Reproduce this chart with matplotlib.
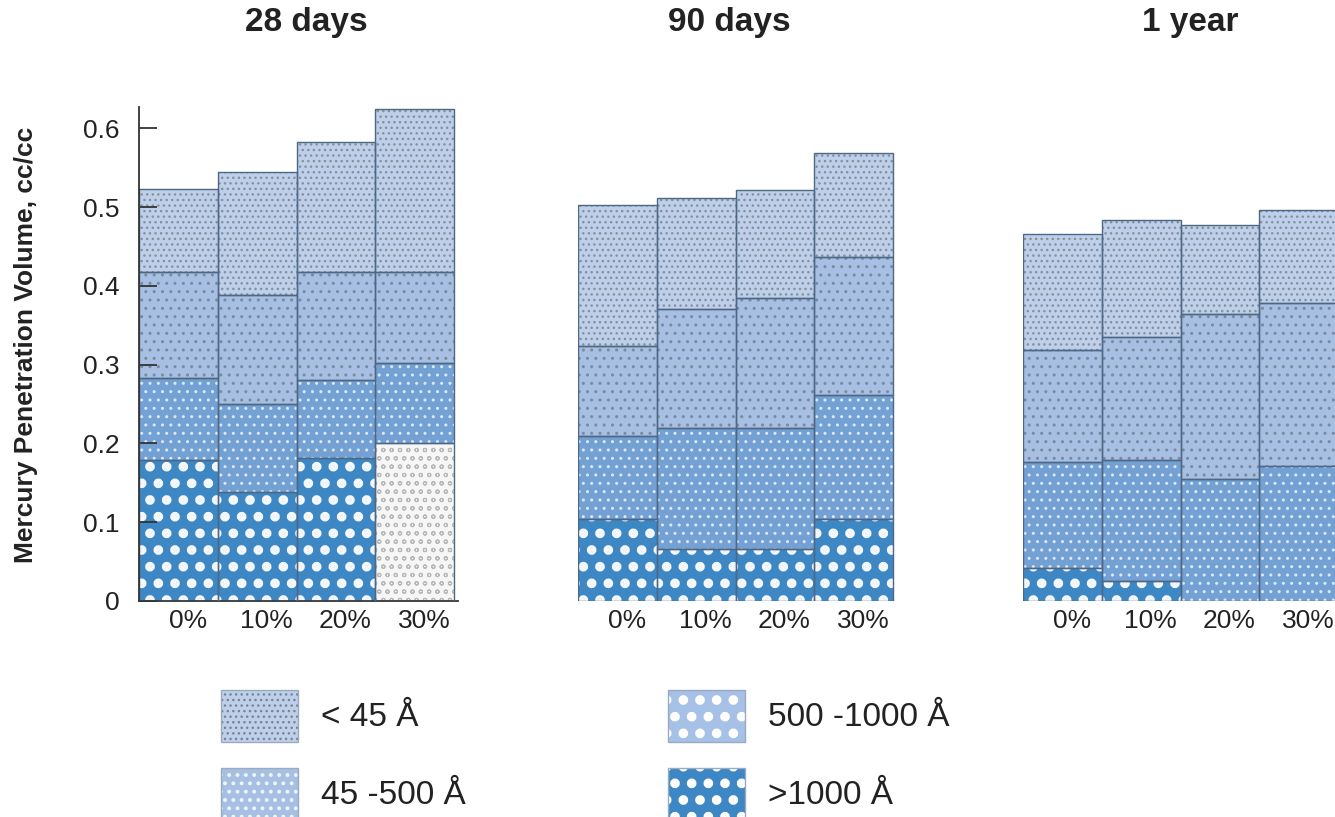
import matplotlib
matplotlib.use("Agg")
import matplotlib.pyplot as plt
from matplotlib.patches import Rectangle
import numpy as np

plt.rcParams['font.family'] = ['Liberation Sans', 'DejaVu Sans']
plt.rcParams['hatch.linewidth'] = 1.0

# ---------------- data ----------------
panels = ["28 days", "90 days", "1 year"]
replacement = ["0%", "10%", "20%", "30%"]
size_classes = ["< 45 Å", "45 -500 Å", "500 -1000 Å", ">1000 Å"]

# volumes (cc/cc) per pore-size class, per replacement level
gt1000_28 = [0.179, 0.138, 0.181, 0.200]
p500_28   = [0.104, 0.112, 0.099, 0.102]
p45_28    = [0.134, 0.139, 0.137, 0.115]
lt45_28   = [0.106, 0.155, 0.166, 0.207]

gt1000_90 = [0.104, 0.066, 0.066, 0.104]
p500_90   = [0.105, 0.153, 0.153, 0.158]
p45_90    = [0.115, 0.152, 0.166, 0.175]
lt45_90   = [0.179, 0.141, 0.137, 0.131]

gt1000_1y = [0.042, 0.025, 0.000, 0.000]
p500_1y   = [0.135, 0.154, 0.155, 0.171]
p45_1y    = [0.142, 0.156, 0.209, 0.207]
lt45_1y   = [0.147, 0.148, 0.113, 0.118]

data = {
    "28 days": [gt1000_28, p500_28, p45_28, lt45_28],
    "90 days": [gt1000_90, p500_90, p45_90, lt45_90],
    "1 year":  [gt1000_1y, p500_1y, p45_1y, lt45_1y],
}
yticks = [0, 0.1, 0.2, 0.3, 0.4, 0.5, 0.6]
ytick_labels = ["0", "0.1", "0.2", "0.3", "0.4", "0.5", "0.6"]

# ---------------- styles (bottom -> top) ----------------
faces   = ["#3d88c4", "#73a1d4", "#a6bfe2", "#bdd0eb"]
hatches = [".", "..", "..", "..."]
hcolors = ["#f4f8fc", "#dbe8f6", "#7a8aa0", "#8a8f98"]
hlw     = [4.5, 1.0, 1.0, 1.0]
border = "#4d6784"
label_shift = 0.12   # tick labels sit slightly right of bar centres

W, H = 1335, 817
fig = plt.figure(figsize=(W / 100, H / 100), dpi=100)

ax_left = [139, 578, 1023]
ax_w = 319
y0, y1 = 601, 107

for pi, (name, left) in enumerate(zip(panels, ax_left)):
    ax = fig.add_axes([left / W, (H - y0) / H, ax_w / W, (y0 - y1) / H])
    x = np.arange(len(replacement))
    bottom = np.zeros(len(replacement))
    for si, vals in enumerate(data[name]):
        vals = np.array(vals)
        for bi in range(len(x)):
            if vals[bi] <= 0:
                continue
            fc, hc, hh = faces[si], hcolors[si], hatches[si]
            plt.rcParams['hatch.linewidth'] = hlw[si]
            if name == "28 days" and bi == 3 and si == 0:
                fc, hc, hh = "#f6f6f6", "#b8b8b8", "oo"
                plt.rcParams['hatch.linewidth'] = 0.8
            ax.bar(x[bi], vals[bi], bottom=bottom[bi], width=1.0,
                   color=fc, edgecolor=hc, hatch=hh, linewidth=0, zorder=2)
            ax.bar(x[bi], vals[bi], bottom=bottom[bi], width=1.0,
                   fill=False, edgecolor=border, linewidth=1.0, zorder=3)
        bottom += vals
    ax.set_xlim(-0.5, 3.55)
    ax.set_ylim(0, 0.627)
    ax.set_xticks(x + label_shift)
    ax.set_xticklabels(replacement, fontsize=19, color="#222222")
    ax.tick_params(axis="x", length=0, pad=6)
    for s in ["top", "right"]:
        ax.spines[s].set_visible(False)
    if pi == 0:
        ax.set_yticks(yticks)
        ax.set_yticklabels(ytick_labels, fontsize=19, color="#222222")
        ax.tick_params(axis="y", direction="in", length=13, width=1.3,
                       color="#333333", pad=14)
        ax.spines["left"].set_color("#333333")
        ax.spines["left"].set_linewidth(1.3)
        ax.spines["bottom"].set_color("#333333")
        ax.spines["bottom"].set_linewidth(1.3)
        ax.spines["left"].set_zorder(4)
        ax.set_ylabel("Mercury Penetration Volume, cc/cc", fontsize=19,
                      fontweight="bold", color="#222222")
        ax.yaxis.set_label_coords(-0.318, 0.518)
        for t in ax.yaxis.get_major_ticks():
            t.tick1line.set_zorder(5)
        ax.set_axisbelow(False)
    else:
        ax.set_yticks([])
        ax.spines["left"].set_visible(False)
        ax.spines["bottom"].set_visible(False)

# titles
title_x = [306, 729, 1190]
for name, tx in zip(panels, title_x):
    fig.text(tx / W, (H - 23) / H, name, ha="center", va="center",
             fontsize=24, fontweight="bold", color="#222222")

# legend
leg_pos = [(221, 690), (221, 768), (668, 690), (668, 768)]
leg_faces = ["#bdd0eb", "#a6bfe2", "#a6c1e5", "#3d88c4"]
leg_hcols = ["#7d828c", "#eef3fa", "#ffffff", "#ffffff"]
leg_hatch = ["...", "..", ".", "."]
leg_hlw = [1.0, 1.6, 4.5, 4.5]
for si, (lx, ly) in enumerate(leg_pos):
    plt.rcParams['hatch.linewidth'] = leg_hlw[si]
    rect = Rectangle((lx / W, (H - ly - 52) / H), 77 / W, 52 / H,
                     transform=fig.transFigure, facecolor=leg_faces[si],
                     edgecolor=leg_hcols[si], hatch=leg_hatch[si], linewidth=0)
    fig.add_artist(rect)
    fig.add_artist(Rectangle((lx / W, (H - ly - 52) / H), 77 / W, 52 / H,
                             transform=fig.transFigure, fill=False,
                             edgecolor="#9aaac0", linewidth=1.0))
    fig.text((lx + 100) / W, (H - ly - 28) / H, size_classes[si],
             ha="left", va="center", fontsize=24, color="#222222")

fig.savefig("out.png", dpi=100)
